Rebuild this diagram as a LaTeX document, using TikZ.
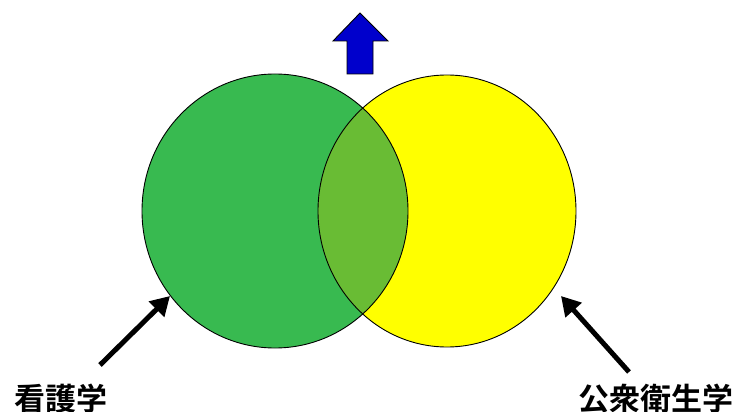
\documentclass[tikz,border=0pt]{standalone}
\usepackage{fontspec}
\newfontfamily\cjk{Noto Sans CJK JP}[BoldFont={* Bold}]
\usetikzlibrary{arrows.meta}
\definecolor{vgreen}{HTML}{38BA50}
\definecolor{vlens}{HTML}{69BC34}
\definecolor{vyellow}{HTML}{FFFF00}
\definecolor{vblue}{HTML}{0000CC}
\tikzset{
  label text/.style={font=\cjk\bfseries\fontsize{31}{31}\selectfont, inner sep=0pt, anchor=base},
  pointer/.style={line width=5pt, -{Triangle[length=19pt,width=21pt]}},
  outline/.style={draw=black, line width=0.9pt}
}
\begin{document}
\begin{tikzpicture}[x=1pt,y=-1pt]
\useasboundingbox (0,0) rectangle (740,412);
% circles
\fill[vgreen] (275,211) ellipse [x radius=133, y radius=137];
\fill[vyellow] (447,211) ellipse [x radius=129, y radius=136];
\begin{scope}
  \clip (275,211) ellipse [x radius=133, y radius=137];
  \fill[vlens] (447,211) ellipse [x radius=129, y radius=136];
\end{scope}
\draw[outline] (275,211) ellipse [x radius=133, y radius=137];
\draw[outline] (447,211) ellipse [x radius=129, y radius=136];
% up arrow
\draw[fill=vblue, line width=0.9pt, line join=miter]
  (360,13) -- (388,41) -- (373,41) -- (373,74) -- (347,74) -- (347,41) -- (333,41) -- cycle;
% labels
\node[label text] (nurse) at (61,410) {看護学};
\node[label text] (pub) at (656,410) {公衆衛生学};
\coordinate (ltail) at (100,365);
\coordinate (ltip) at (170,296);
\coordinate (rtail) at (629,372);
\coordinate (rtip) at (561,296);
\draw[pointer] (ltail) -- (ltip);
\draw[pointer] (rtail) -- (rtip);
\end{tikzpicture}
\end{document}
